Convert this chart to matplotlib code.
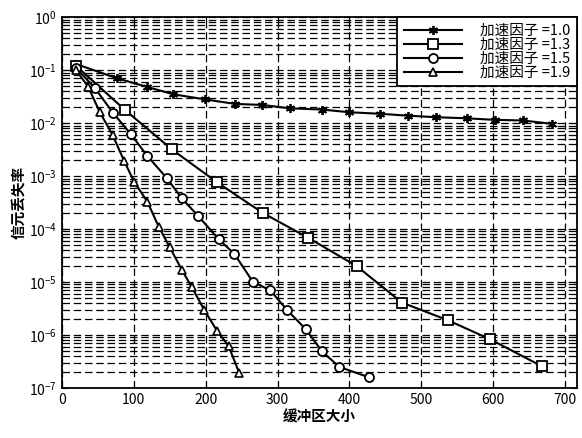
import matplotlib.pyplot as plt
from matplotlib.ticker import LogLocator, MultipleLocator

plt.rcParams["font.family"] = ["Noto Sans CJK SC", "DejaVu Sans"]

# buffer size vs cell loss rate, one series per speed-up factor
x_10 = [20, 77, 119, 155, 199, 241, 279, 317, 362, 400, 442, 481, 521, 563, 602, 641, 681]
y_10 = [0.13, 0.07, 0.048, 0.035, 0.028, 0.023, 0.022, 0.019, 0.018, 0.016,
        0.015, 0.0138, 0.0129, 0.0123, 0.0115, 0.0112, 0.0097]

x_13 = [20, 88, 153, 216, 280, 343, 410, 473, 537, 595, 667]
y_13 = [0.12, 0.0177, 0.0032, 7.6e-4, 2e-4, 6.8e-5, 2e-5, 4.1e-6, 1.9e-6, 8.4e-7, 2.6e-7]

x_15 = [20, 46, 71, 96, 119, 146, 167, 190, 218, 240, 266, 290, 313, 339, 362, 386, 427]
y_15 = [0.11, 0.046, 0.0158, 0.0062, 0.0024, 9.2e-4, 3.8e-4, 1.75e-4, 6.5e-5, 3.4e-5,
        1.0e-5, 7e-6, 3.0e-6, 1.3e-6, 4.9e-7, 2.5e-7, 1.6e-7]

x_19 = [20, 37, 53, 71, 87, 101, 119, 135, 150, 167, 181, 198, 216, 232, 247]
y_19 = [0.10, 0.048, 0.016, 0.0059, 0.0019, 7.7e-4, 3.3e-4, 1.1e-4, 4.6e-5, 1.7e-5,
        8e-6, 3e-6, 1.2e-6, 6.2e-7, 1.9e-7]

labels = ["加速因子 =1.0", "加速因子 =1.3", "加速因子 =1.5", "加速因子 =1.9"]

fig = plt.figure(figsize=(5.82, 4.38), dpi=100)
ax = fig.add_axes([0.106, 0.114, 0.885, 0.847])

ax.plot(x_10, y_10, color="black", linewidth=1.5, marker=(6, 2, 0),
        markersize=6.5, markeredgewidth=1.3, label=labels[0])
ax.plot(x_13, y_13, color="black", linewidth=1.5, marker="s", markersize=7,
        markerfacecolor="white", markeredgewidth=1.3, label=labels[1])
ax.plot(x_15, y_15, color="black", linewidth=1.5, marker="o", markersize=6.5,
        markerfacecolor="white", markeredgewidth=1.3, label=labels[2])
ax.plot(x_19, y_19, color="black", linewidth=1.5, marker="^", markersize=6,
        markerfacecolor="white", markeredgewidth=1.2, label=labels[3])

ax.set_yscale("log")
ax.set_xlim(0, 716)
ax.set_ylim(1e-7, 1)
ax.xaxis.set_major_locator(MultipleLocator(100))
ax.yaxis.set_major_locator(LogLocator(base=10, numticks=10))
ax.yaxis.set_minor_locator(LogLocator(base=10, subs=range(2, 10), numticks=20))

ax.grid(True, which="major", color="black", linestyle=(0, (6, 3)), linewidth=0.9)
ax.grid(True, which="minor", axis="y", color="black", linestyle=(0, (6, 3)), linewidth=0.9)

ax.tick_params(which="both", direction="in", top=True, right=True, labelsize=10)
for side in ax.spines.values():
    side.set_linewidth(1.3)

ax.set_xlabel("缓冲区大小", fontsize=10.5, fontweight="bold", labelpad=1)
ax.set_ylabel("信元丢失率", fontsize=10.5, fontweight="bold", labelpad=2)

leg = ax.legend(loc="upper right", fontsize=10.5, fancybox=False, framealpha=1,
                edgecolor="black", borderaxespad=0, handlelength=4.0,
                labelspacing=0.0, borderpad=0.45, handletextpad=1.2)
leg.get_frame().set_linewidth(1.3)

plt.savefig("out.png", dpi=100)
plt.close()
